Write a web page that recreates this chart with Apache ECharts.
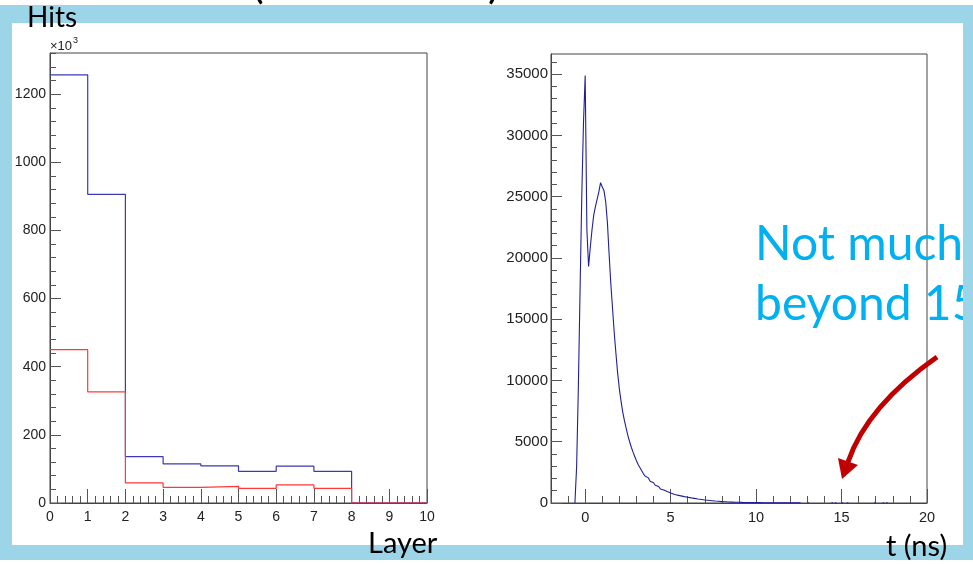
<!DOCTYPE html>
<html>
<head>
<meta charset="utf-8">
<script src="https://cdn.jsdelivr.net/npm/echarts@6/dist/echarts.min.js"></script>
<style>
html, body { margin: 0; padding: 0; background: #fff; }
#main { width: 973px; height: 564px; }
</style>
</head>
<body>
<div id="main"></div>
<script>
// left panel: hits per layer (in units of 10^3), one bin per layer
var layerEdges = [0, 1, 2, 3, 4, 5, 6, 7, 8, 9];
var hitsBlue = [1257, 906, 136, 115, 109, 93, 108, 93, 0, 0];
var hitsRed = [450, 326, 59, 46, 49, 43, 53, 43, 0, 0];
var layerTicks = [0, 1, 2, 3, 4, 5, 6, 7, 8, 9, 10];
var hitsTicks = [0, 200, 400, 600, 800, 1000, 1200];

// right panel: hit time, 0.1 ns bins starting at -0.6 ns
var timeStart = -0.6;
var timeWidth = 0.1;
var timeCounts = [
  0, 3000, 9400, 17300, 25000, 31000, 34900, 22300, 19300, 20900,
  22300, 23500, 24200, 24800, 25400, 26150, 25800, 25500, 24600, 22900,
  20300, 17900, 15900, 13900, 12200, 10600, 9300, 8300, 7400, 6700,
  6100, 5500, 5000, 4550, 4150, 3800, 3450, 3150, 2900, 2650,
  2400, 2200, 2050, 1900, 1780, 1650, 1560, 1450, 1350, 1250,
  1150, 1060, 980, 930, 870, 820, 770, 720, 680, 640,
  610, 580, 550, 520, 500, 470, 450, 420, 400, 380,
  350, 330, 310, 290, 270, 250, 235, 220, 205, 190,
  175, 160, 150, 140, 125, 115, 105, 100, 95, 85,
  80, 75, 70, 65, 60, 58, 55, 50, 48, 45,
  42, 40, 38, 35, 33, 30, 28, 27, 25, 24,
  22, 21, 20, 19, 18, 17, 16, 15, 14, 14,
  13, 12, 12, 11, 10, 10, 9, 9, 8, 8,
  7, 7
];
// isolated bins past the tail: [bin start ns, count]
var timeStray = [[13.0, 15], [14.4, 20], [14.6, 15], [15.0, 25], [15.3, 15], [16.9, 10], [17.4, 15], [17.6, 10]];
var timeTicks = [0, 5, 10, 15, 20];
var countTicks = [0, 5000, 10000, 15000, 20000, 25000, 30000, 35000];

var frameColor = '#444';
var tickColor = '#555';
var labelFont = 'Liberation Sans';
var slideBlue = '#9dd5e8';

function minorTicks(lo, hi, step, major) {
  var out = [];
  for (var v = lo; v <= hi + 1e-9; v += step) {
    var r = Math.round(v * 1000) / 1000;
    if (major.indexOf(r) < 0) out.push(r);
  }
  return out;
}

function stepData(edges, vals, lastEdge) {
  var d = edges.map(function (e, i) { return [e, vals[i]]; });
  d.push([lastEdge, vals[vals.length - 1]]);
  return d;
}

var timeEdges = timeCounts.map(function (c, i) {
  return Math.round((timeStart + i * timeWidth) * 100) / 100;
});
var timeEnd = Math.round((timeStart + timeCounts.length * timeWidth) * 100) / 100;
var timeData = stepData(timeEdges, timeCounts, timeEnd);
timeData.push([timeEnd, 0]);

var strayData = [];
timeStray.forEach(function (b) {
  strayData.push([b[0], 0], [b[0], b[1]], [b[0] + timeWidth, b[1]], [b[0] + timeWidth, 0], null);
});

function mainAxis(grid, pos, min, max, ticks, len, fontSize, margin) {
  return {
    gridIndex: grid, type: 'value', position: pos, min: min, max: max,
    axisLine: { show: true, onZero: false, lineStyle: { color: frameColor, width: 1 } },
    axisTick: { show: true, inside: true, length: len, customValues: ticks, lineStyle: { color: tickColor, width: 1 } },
    axisLabel: {
      show: true, customValues: ticks, margin: margin, color: '#222',
      fontFamily: labelFont, fontSize: fontSize,
      formatter: function (v) { return String(v); }
    },
    splitLine: { show: false }
  };
}

function minorAxis(grid, pos, min, max, ticks, len) {
  return {
    gridIndex: grid, type: 'value', position: pos, min: min, max: max,
    axisLine: { show: false, onZero: false },
    axisTick: { show: true, inside: true, length: len, customValues: ticks, lineStyle: { color: tickColor, width: 1 } },
    axisLabel: { show: false },
    splitLine: { show: false }
  };
}

var chart = echarts.init(document.getElementById('main'));

var option = {
  backgroundColor: '#fff',
  animation: false,
  grid: [
    { left: 50, top: 53, width: 377, height: 450, show: true, borderColor: frameColor, borderWidth: 1, containLabel: false, outerBoundsMode: 'none' },
    { left: 551, top: 54, width: 376, height: 449, show: true, borderColor: frameColor, borderWidth: 1, containLabel: false, outerBoundsMode: 'none' }
  ],
  xAxis: [
    mainAxis(0, 'bottom', 0, 10, layerTicks, 14, 14, 7),
    minorAxis(0, 'bottom', 0, 10, minorTicks(0, 10, 0.2, layerTicks), 7),
    mainAxis(1, 'bottom', -2, 20, timeTicks, 14, 14.5, 7),
    minorAxis(1, 'bottom', -2, 20, minorTicks(-2, 20, 1, timeTicks), 7)
  ],
  yAxis: [
    mainAxis(0, 'left', 0, 1321, hitsTicks, 11, 14, 4),
    minorAxis(0, 'left', 0, 1321, minorTicks(0, 1320, 40, hitsTicks), 6),
    mainAxis(1, 'left', 0, 36650, countTicks, 11, 15, 3),
    minorAxis(1, 'left', 0, 36650, minorTicks(0, 36000, 1000, countTicks), 6)
  ],
  series: [
    {
      name: 'blue', type: 'line', xAxisIndex: 0, yAxisIndex: 0, step: 'end',
      showSymbol: false, symbol: 'none',
      lineStyle: { color: '#3a3ab4', width: 1.2 },
      data: stepData(layerEdges, hitsBlue, 10)
    },
    {
      name: 'red', type: 'line', xAxisIndex: 0, yAxisIndex: 0, step: 'end',
      showSymbol: false, symbol: 'none',
      lineStyle: { color: '#ff3838', width: 1.2 },
      data: stepData(layerEdges, hitsRed, 10)
    },
    {
      name: 'time', type: 'line', xAxisIndex: 2, yAxisIndex: 2, step: 'end',
      showSymbol: false, symbol: 'none',
      lineStyle: { color: '#1f1f9c', width: 1.1 },
      data: timeData
    },
    {
      name: 'stray', type: 'line', xAxisIndex: 2, yAxisIndex: 2,
      showSymbol: false, symbol: 'none', connectNulls: false,
      lineStyle: { color: '#1f1f9c', width: 1.1 },
      data: strayData
    }
  ],
  graphic: [
    // slide text
    { type: 'text', z: 110, left: 27, top: 4, style: { text: 'Hits', font: '28px Lato', fill: '#000' } },
    { type: 'text', z: 110, left: 368, top: 529, style: { text: 'Layer', font: '29px Lato', fill: '#000' } },
    { type: 'text', z: 110, left: 886, top: 532, style: { text: 't (ns)', font: '29px Lato', fill: '#000' } },
    { type: 'text', z: 110, left: 252, top: -38, style: { text: '(', font: '44px Lato', fill: '#000' } },
    { type: 'text', z: 110, left: 488, top: -38, style: { text: ')', font: '44px Lato', fill: '#000' } },
    { type: 'text', z: 50, left: 755, top: 221, style: { text: 'Not much', font: '48px Lato', fill: '#00b0f0' } },
    { type: 'text', z: 50, left: 755, top: 281, style: { text: 'beyond 15', font: '48px Lato', fill: '#00b0f0' } },
    // axis multiplier
    { type: 'text', z: 50, left: 50, top: 40, style: { text: '\u00d710', font: '13px "Liberation Sans"', fill: '#222' } },
    { type: 'text', z: 50, left: 73, top: 36, style: { text: '3', font: '9px "Liberation Sans"', fill: '#222' } },
    // arrow
    {
      type: 'bezierCurve', z: 60,
      shape: { x1: 937, y1: 357, x2: 848, y2: 462, cpx1: 867, cpy1: 406 },
      style: { stroke: '#c00000', lineWidth: 5, fill: null }
    },
    {
      type: 'polygon', z: 61,
      shape: { points: [[842, 479], [838, 458], [858, 465]] },
      style: { fill: '#c00000' }
    },
    // light blue slide frame
    { type: 'rect', z: 100, shape: { x: 0, y: 5, width: 973, height: 18 }, style: { fill: slideBlue } },
    { type: 'rect', z: 100, shape: { x: 0, y: 5, width: 12, height: 555 }, style: { fill: slideBlue } },
    { type: 'rect', z: 100, shape: { x: 963, y: 5, width: 10, height: 555 }, style: { fill: slideBlue } },
    { type: 'rect', z: 100, shape: { x: 0, y: 545, width: 973, height: 15 }, style: { fill: slideBlue } }
  ]
};

chart.setOption(option);
</script>
</body>
</html>
